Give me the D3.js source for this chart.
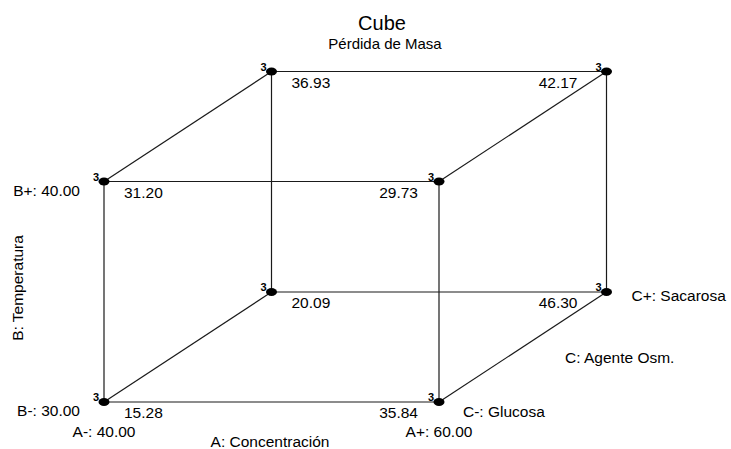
<!DOCTYPE html>
<html>
<head>
<meta charset="utf-8">
<script src="https://cdn.jsdelivr.net/npm/d3@7/dist/d3.min.js"></script>
<style>
  html, body { margin: 0; padding: 0; background: #fff; }
  svg { display: block; font-family: "Liberation Sans", Arial, sans-serif; }
</style>
</head>
<body>
<svg id="chart" width="731" height="449"></svg>
<script>
// Factor levels
const factorA = [40, 60];          // A: Concentración
const factorB = [30, 40];          // B: Temperatura
const factorC = ["Glucosa", "Sacarosa"]; // C: Agente Osm.

// Response (Pérdida de Masa) at each corner, keyed by A, B, C level index
const cornerA = [0, 1, 0, 1, 0, 1, 0, 1];
const cornerB = [0, 0, 1, 1, 0, 0, 1, 1];
const cornerC = [0, 0, 0, 0, 1, 1, 1, 1];
const response = [15.28, 35.84, 31.20, 29.73, 20.09, 46.30, 36.93, 42.17];
const replicates = [3, 3, 3, 3, 3, 3, 3, 3];

const FS = 15.5;
const svg = d3.select("#chart");

// Front face scales plus the oblique depth offset for factor C
const x = d3.scaleLinear().domain(factorA).range([104, 439]);
const y = d3.scaleLinear().domain(factorB).range([402, 181.5]);
const depthX = d3.scaleLinear().domain([0, 1]).range([0, 167.5]);
const depthY = d3.scaleLinear().domain([0, 1]).range([0, -110]);

const pts = response.map((v, i) => ({
  a: cornerA[i], b: cornerB[i], c: cornerC[i], v, n: replicates[i],
  px: x(factorA[cornerA[i]]) + depthX(cornerC[i]),
  py: y(factorB[cornerB[i]]) + depthY(cornerC[i])
}));

// Edges: pairs of corners differing in exactly one factor
const edges = [];
for (let i = 0; i < pts.length; i++) {
  for (let j = i + 1; j < pts.length; j++) {
    const d = (pts[i].a !== pts[j].a) + (pts[i].b !== pts[j].b) + (pts[i].c !== pts[j].c);
    if (d === 1) edges.push([pts[i], pts[j]]);
  }
}

svg.append("g").selectAll("line").data(edges).join("line")
  .attr("x1", d => d[0].px).attr("y1", d => d[0].py)
  .attr("x2", d => d[1].px).attr("y2", d => d[1].py)
  .attr("stroke", "#1a1a1a").attr("stroke-width", 1.2);

svg.append("g").selectAll("ellipse").data(pts).join("ellipse")
  .attr("cx", d => d.px).attr("cy", d => d.py)
  .attr("rx", 5.5).attr("ry", 4).attr("fill", "#000");

// Replicate counts
svg.append("g").selectAll("text").data(pts).join("text")
  .attr("x", d => d.px - 5).attr("y", d => d.py - 1)
  .attr("text-anchor", "end")
  .attr("font-size", 11).attr("font-weight", "bold")
  .text(d => d.n);

// Response values
svg.append("g").selectAll("text").data(pts).join("text")
  .attr("x", d => d.a === 0 ? d.px + 20 : d.px - (d.c === 0 ? 21 : 29))
  .attr("y", d => d.py + 16)
  .attr("text-anchor", d => d.a === 0 ? "start" : "end")
  .attr("font-size", FS)
  .text(d => d.v.toFixed(2));

// Titles
svg.append("text").attr("x", 382).attr("y", 30).attr("text-anchor", "middle")
  .attr("font-size", 20).text("Cube");
svg.append("text").attr("x", 385).attr("y", 49).attr("text-anchor", "middle")
  .attr("font-size", 15).text("Pérdida de Masa");

// Factor level labels
const lab = (tx, ty, t, anchor) => svg.append("text")
  .attr("x", tx).attr("y", ty).attr("text-anchor", anchor || "start")
  .attr("font-size", FS).text(t);

lab(x(factorA[0]) - 24, y(factorB[1]) + 14, `B+: ${factorB[1].toFixed(2)}`, "end");
lab(x(factorA[0]) - 24, y(factorB[0]) + 14, `B-: ${factorB[0].toFixed(2)}`, "end");
lab(x(factorA[0]), 437, `A-: ${factorA[0].toFixed(2)}`, "middle");
lab(x(factorA[1]), 437, `A+: ${factorA[1].toFixed(2)}`, "middle");
lab(270, 447, "A: Concentración", "middle");
lab(x(factorA[1]) + 24, y(factorB[0]) + 15, `C-: ${factorC[0]}`);
lab(x(factorA[1]) + depthX(1) + 25, y(factorB[0]) + depthY(1) + 9, `C+: ${factorC[1]}`);
lab(565, 363, "C: Agente Osm.");

svg.append("text")
  .attr("transform", "translate(23,288) rotate(-90)")
  .attr("text-anchor", "middle").attr("font-size", FS)
  .text("B: Temperatura");
</script>
</body>
</html>
